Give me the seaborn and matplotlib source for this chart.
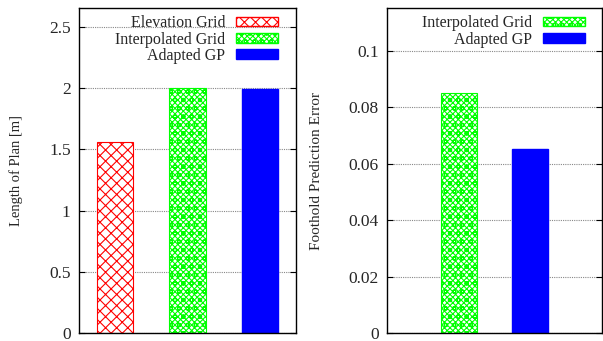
import numpy as np
import pandas as pd
import matplotlib
matplotlib.use("Agg")
import matplotlib.pyplot as plt
import seaborn as sns
from matplotlib.patches import Patch

# dados
metodos_plano = ["Elevation Grid", "Interpolated Grid", "Adapted GP"]
comprimento_plano = [1.557, 2.0, 1.995]
metodos_erro = ["Interpolated Grid", "Adapted GP"]
erro_apoio = [0.0852, 0.0651]
ticks_plano = [0, 0.5, 1, 1.5, 2, 2.5]
ticks_erro = [0, 0.02, 0.04, 0.06, 0.08, 0.1]

cores = {"Elevation Grid": "#ff0000", "Interpolated Grid": "#00ff00", "Adapted GP": "#0000ff"}
hachuras = {"Elevation Grid": "xxx", "Interpolated Grid": "xxxxxxoo", "Adapted GP": None}

sns.set_style("white")
plt.rcParams["font.family"] = ["Liberation Serif", "DejaVu Serif"]
plt.rcParams["hatch.linewidth"] = 0.8

fig = plt.figure(figsize=(6.03, 3.41), dpi=100)
ax1 = fig.add_axes([79 / 603, 8 / 341, 217 / 603, 325 / 341])
ax2 = fig.add_axes([387 / 603, 8 / 341, 215 / 603, 325 / 341])


def desenha(ax, metodos, valores, ancora):
    df = pd.DataFrame({"metodo": metodos, "valor": valores})
    sns.barplot(data=df, x="metodo", y="valor", hue="metodo", order=metodos,
                palette=cores, width=0.5, dodge=False, legend=False, ax=ax)
    for barra, m in zip(ax.patches, metodos):
        if hachuras[m]:
            barra.set_facecolor("white")
            barra.set_edgecolor(cores[m])
            barra.set_hatch(hachuras[m])
            barra.set_linewidth(0.8)
        else:
            barra.set_facecolor(cores[m])
            barra.set_edgecolor(cores[m])
    handles = []
    for m in metodos:
        if hachuras[m]:
            handles.append(Patch(facecolor="white", edgecolor=cores[m], hatch=hachuras[m], label=m))
        else:
            handles.append(Patch(facecolor=cores[m], edgecolor=cores[m], label=m))
    ax.legend(handles=handles, loc="upper right", bbox_to_anchor=ancora,
              frameon=False, markerfirst=False, fontsize=11.5, handlelength=2.6,
              handleheight=0.55, labelspacing=0.02, handletextpad=0.7, borderpad=0.3)
    ax.set_xlabel("")
    ax.set_xticks([])
    ax.grid(axis="y", color="#888888", linestyle=(0, (1, 1)), linewidth=0.8)
    ax.set_axisbelow(True)
    for s in ax.spines.values():
        s.set_visible(True)
        s.set_color("black")
        s.set_linewidth(1.0)
    ax.tick_params(axis="y", direction="in", left=True, right=True, length=4,
                   labelsize=12.5, pad=6, color="black")


desenha(ax1, metodos_plano, comprimento_plano, (0.975, 1.017))
ax1.set_xlim(-0.5, 2.5)
ax1.set_ylim(0, 2.655)
ax1.set_yticks(ticks_plano)
ax1.set_yticklabels(["0", "0.5", "1", "1.5", "2", "2.5"])
ax1.set_ylabel("Length of Plan [m]", fontsize=10.5, labelpad=19)

desenha(ax2, metodos_erro, erro_apoio, (0.98, 1.017))
ax2.set_xlim(-1, 2)
ax2.set_ylim(0, 0.1152)
ax2.set_yticks(ticks_erro)
ax2.set_yticklabels(["0", "0.02", "0.04", "0.06", "0.08", "0.1"])
ax2.set_ylabel("Foothold Prediction Error", fontsize=11, labelpad=18)

fig.savefig("out.png", dpi=100)
